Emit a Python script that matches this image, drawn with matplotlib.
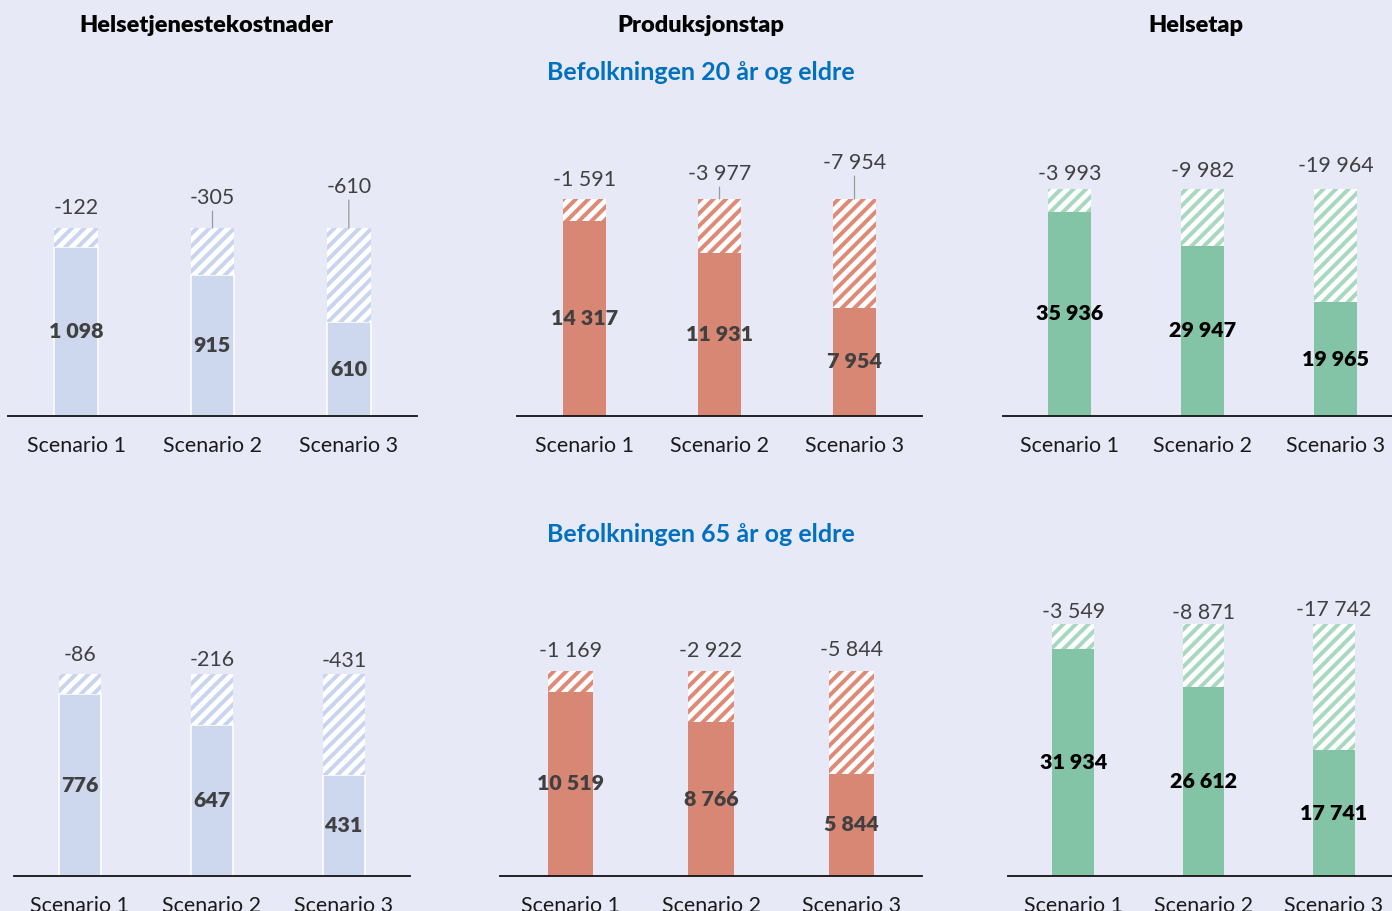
import matplotlib.pyplot as plt

plt.rcParams['font.family'] = ['Lato', 'DejaVu Sans']
plt.rcParams['hatch.linewidth'] = 3.8

W, H, DPI = 1392, 911, 75
BG = "#E7EAF6"

scenarios = ["Scenario 1", "Scenario 2", "Scenario 3"]

# remaining cost (solid part) and reduction (hatched part) per scenario
helse_20_rest = [1098, 915, 610]
helse_20_red = [122, 305, 610]
prod_20_rest = [14317, 11931, 7954]
prod_20_red = [1591, 3977, 7954]
tap_20_rest = [35936, 29947, 19965]
tap_20_red = [3993, 9982, 19964]

helse_65_rest = [776, 647, 431]
helse_65_red = [86, 216, 431]
prod_65_rest = [10519, 8766, 5844]
prod_65_red = [1169, 2922, 5844]
tap_65_rest = [31934, 26612, 17741]
tap_65_red = [3549, 8871, 17742]

column_titles = ["Helsetjenestekostnader", "Produksjonstap", "Helsetap"]
row_titles = ["Befolkningen 20 år og eldre", "Befolkningen 65 år og eldre"]

# colours per column: solid fill, solid edge, stripe colour, value text colour
styles = [
    dict(fill="#CDD7EE", edge="white", elw=1.5, stripe="#C9D5F0", txt="#404040"),
    dict(fill="#D88775", edge="#D88775", elw=0, stripe="#DE8A77", txt="#404040"),
    dict(fill="#84C4A6", edge="#84C4A6", elw=0, stripe="#A8D9BF", txt="black"),
]

# pixel layout: x-left, x-right, baseline, axes top, bar height, label offsets
panels = [
    (helse_20_rest, helse_20_red, 0, (8, 417, 416, 140, 188, [20, 30, 41])),
    (prod_20_rest, prod_20_red, 1, (517, 922, 416, 140, 217, [19, 25, 36])),
    (tap_20_rest, tap_20_red, 2, (1003, 1402, 416, 140, 227, [15, 18, 23])),
    (helse_65_rest, helse_65_red, 0, (14, 410, 876, 600, 202, [19, 14, 13])),
    (prod_65_rest, prod_65_red, 1, (500, 922, 876, 600, 205, [20, 20, 21])),
    (tap_65_rest, tap_65_red, 2, (1008, 1399, 876, 600, 252, [12, 11, 14])),
]


def fmt(v):
    return f"{v:,}".replace(",", " ")


fig = plt.figure(figsize=(W / DPI, H / DPI), dpi=DPI, facecolor=BG)

for rest, red, col, (x0, x1, base, top, bar_px, offs) in panels:
    st = styles[col]
    ax = fig.add_axes([x0 / W, (H - base) / H, (x1 - x0) / W, (base - top) / H])
    ax.set_facecolor(BG)
    ax.patch.set_alpha(0)
    x = range(len(scenarios))
    total = max(r + d for r, d in zip(rest, red))
    ax.set_xlim(-0.5, 2.5)
    ax.set_ylim(0, total * (base - top) / bar_px)

    ax.bar(x, rest, 0.32, color=st["fill"], edgecolor=st["edge"], linewidth=st["elw"], zorder=2)
    ax.bar(x, red, 0.32, bottom=rest, color="white", edgecolor=st["stripe"],
           hatch="//", linewidth=0, zorder=2)

    for i, (r, d) in enumerate(zip(rest, red)):
        ax.text(i, r / 2, fmt(r), ha="center", va="center", fontsize=20.5,
                fontweight="heavy", color=st["txt"], zorder=3)
        arrow = dict(arrowstyle="-", color="#9A9A9A", lw=1.2, shrinkA=1, shrinkB=0) if offs[i] > 24 else None
        ax.annotate(fmt(-d), xy=(i, r + d), xytext=(0, offs[i]), textcoords="offset pixels",
                    ha="center", va="center", fontsize=20.5, color="#404040",
                    arrowprops=arrow, zorder=3)

    for s in ["top", "left", "right"]:
        ax.spines[s].set_visible(False)
    ax.spines["bottom"].set_linewidth(1.8)
    ax.spines["bottom"].set_color("#1A1A1A")
    ax.set_yticks([])
    ax.set_xticks(list(x))
    ax.set_xticklabels(scenarios, fontsize=20.5, color="#1A1A1A")
    ax.tick_params(axis="x", length=0, pad=19)

# column and row headings
for cx, t in zip([206, 701, 1196], column_titles):
    fig.text(cx / W, 1 - 26 / H, t, ha="center", va="center", fontsize=22.5,
             fontweight="heavy", color="black")
for cy, t in zip([73, 534], row_titles):
    fig.text(701 / W, 1 - cy / H, t, ha="center", va="center", fontsize=24,
             fontweight="bold", color="#0070C0")

fig.savefig("out.png", dpi=DPI, facecolor=BG)
